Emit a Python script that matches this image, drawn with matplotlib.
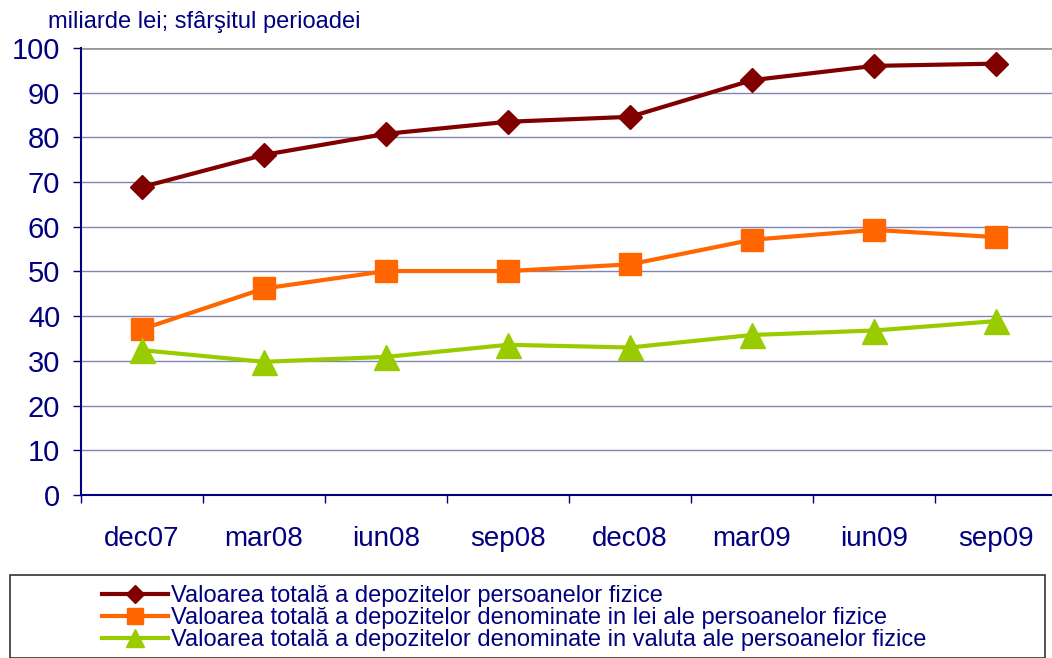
import numpy as np
import matplotlib
matplotlib.use("Agg")
import matplotlib.pyplot as plt
from matplotlib.patches import Rectangle

plt.rcParams['font.family'] = ['Liberation Sans', 'DejaVu Sans']

# date (miliarde lei)
categorii = ["dec07", "mar08", "iun08", "sep08", "dec08", "mar09", "iun09", "sep09"]
total = [68.9, 76.1, 80.8, 83.5, 84.6, 92.8, 96.0, 96.5]
in_lei = [37.1, 46.2, 50.1, 50.1, 51.6, 57.1, 59.3, 57.7]
in_valuta = [32.4, 29.8, 30.9, 33.6, 33.0, 35.8, 36.8, 38.9]

etichete = [
    "Valoarea totală a depozitelor persoanelor fizice",
    "Valoarea totală a depozitelor denominate in lei ale persoanelor fizice",
    "Valoarea totală a depozitelor denominate in valuta ale persoanelor fizice",
]

navy = "#000080"
W, H = 1052, 658
fig = plt.figure(figsize=(W / 100, H / 100), dpi=100)
ax = fig.add_axes([81 / W, 1 - 495 / H, (1057 - 81) / W, (495 - 48) / H])

x = np.arange(len(categorii))
ax.plot(x, total, color="#800000", lw=3, marker="D", ms=12, label=etichete[0], zorder=3)
ax.plot(x, in_lei, color="#FF6600", lw=3, marker="s", ms=16, label=etichete[1], zorder=3)
ax.plot(x, in_valuta, color="#99CC00", lw=3, marker="^", ms=18, label=etichete[2], zorder=3)

ax.set_xlim(-0.5, len(categorii) - 0.5)
ax.set_ylim(0, 100)
ax.set_yticks(np.arange(0, 101, 10))
ax.set_xticks(x)
ax.set_xticklabels(categorii)
ax.set_xticks(np.arange(-0.5, len(categorii)), minor=True)

for v in range(10, 100, 10):
    ax.axhline(v, color="#8484b4", lw=1, zorder=1)
ax.axhline(100, color="#999999", lw=2, zorder=1)

for s in ["top", "right"]:
    ax.spines[s].set_visible(False)
for s in ["left", "bottom"]:
    ax.spines[s].set_color(navy)
    ax.spines[s].set_linewidth(1.5)

ax.tick_params(axis="y", colors=navy, labelsize=21, length=6, width=1, pad=9)
ax.tick_params(axis="x", which="major", length=0, colors=navy, labelsize=20, pad=22)
ax.tick_params(axis="x", which="minor", length=6, width=1, color=navy)

fig.text(48 / W, 1 - 28 / H, "miliarde lei; sfârşitul perioadei", color=navy,
         fontsize=17, ha="left", va="baseline")

# chenarul legendei
fig.patches.append(Rectangle((10 / W, 0), 1035 / W, (H - 575) / H, transform=fig.transFigure,
                             fill=False, edgecolor="#333333", lw=1.2))
leg = fig.legend(loc="upper left", bbox_to_anchor=(90 / W, 1 - 573 / H), frameon=False,
                 fontsize=17, handlelength=2.8, handletextpad=0.15, labelspacing=0.0,
                 borderpad=0, markerscale=0.75)
for t in leg.get_texts():
    t.set_color(navy)

fig.savefig("out.png", dpi=100)
